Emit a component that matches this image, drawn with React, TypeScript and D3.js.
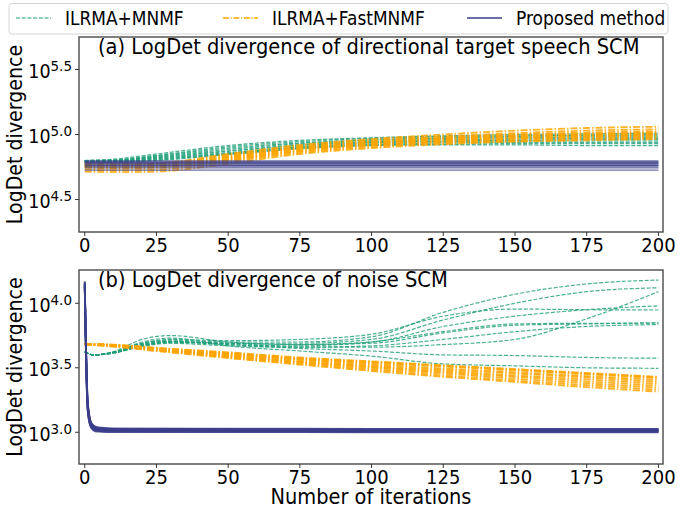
import React from 'react'
import * as d3 from 'd3'

// values are log10 of the LogDet divergence

// (a) directional target speech SCM
const iterA = [0, 10, 25, 50, 75, 100, 125, 150, 175, 200]
const mnmfA = [
  [4.800, 4.810, 4.850, 4.915, 4.955, 4.975, 4.990, 5.000, 5.005, 5.010],
  [4.800, 4.805, 4.840, 4.905, 4.945, 4.970, 4.985, 4.990, 4.995, 5.000],
  [4.795, 4.800, 4.835, 4.895, 4.935, 4.960, 4.975, 4.985, 4.990, 4.990],
  [4.795, 4.800, 4.830, 4.885, 4.930, 4.955, 4.970, 4.975, 4.980, 4.980],
  [4.795, 4.798, 4.825, 4.875, 4.920, 4.945, 4.960, 4.965, 4.970, 4.970],
  [4.790, 4.795, 4.820, 4.870, 4.915, 4.940, 4.950, 4.955, 4.960, 4.960],
  [4.790, 4.793, 4.815, 4.860, 4.905, 4.935, 4.945, 4.950, 4.950, 4.950],
  [4.790, 4.790, 4.810, 4.855, 4.900, 4.925, 4.935, 4.940, 4.940, 4.940],
  [4.785, 4.788, 4.805, 4.850, 4.895, 4.920, 4.925, 4.930, 4.930, 4.930],
  [4.785, 4.785, 4.800, 4.845, 4.890, 4.915, 4.920, 4.920, 4.915, 4.915],
]
const fastA = [
  [4.780, 4.775, 4.780, 4.850, 4.920, 4.965, 5.000, 5.030, 5.050, 5.060],
  [4.775, 4.770, 4.775, 4.840, 4.910, 4.955, 4.985, 5.010, 5.030, 5.040],
  [4.770, 4.765, 4.770, 4.830, 4.900, 4.945, 4.975, 5.000, 5.015, 5.025],
  [4.765, 4.760, 4.765, 4.825, 4.895, 4.940, 4.970, 4.990, 5.005, 5.015],
  [4.760, 4.755, 4.760, 4.820, 4.890, 4.935, 4.965, 4.985, 5.000, 5.010],
  [4.755, 4.750, 4.755, 4.810, 4.880, 4.925, 4.955, 4.975, 4.990, 5.000],
  [4.750, 4.745, 4.750, 4.805, 4.875, 4.920, 4.950, 4.970, 4.985, 4.995],
  [4.745, 4.740, 4.745, 4.800, 4.870, 4.915, 4.945, 4.960, 4.975, 4.985],
  [4.730, 4.725, 4.730, 4.790, 4.860, 4.905, 4.935, 4.950, 4.965, 4.975],
  [4.715, 4.710, 4.715, 4.775, 4.850, 4.895, 4.925, 4.945, 4.955, 4.965],
]
const iterPropA = [0, 100, 200]
const propA = [
  [4.797, 4.797, 4.797],
  [4.790, 4.790, 4.790],
  [4.785, 4.785, 4.785],
  [4.778, 4.778, 4.778],
  [4.772, 4.772, 4.772],
  [4.765, 4.765, 4.765],
  [4.760, 4.760, 4.760],
  [4.752, 4.752, 4.752],
  [4.744, 4.744, 4.744],
  [4.726, 4.726, 4.726],
]

// (b) noise SCM
const iterMnmfB = [0, 3, 10, 20, 30, 50, 75, 100, 125, 150, 175, 200]
const mnmfB = [
  [3.625, 3.600, 3.620, 3.690, 3.715, 3.700, 3.700, 3.740, 3.930, 4.070, 4.150, 4.180],
  [3.625, 3.600, 3.620, 3.685, 3.705, 3.690, 3.690, 3.720, 3.870, 4.000, 4.090, 4.120],
  [3.625, 3.600, 3.615, 3.665, 3.690, 3.670, 3.660, 3.660, 3.680, 3.720, 3.880, 4.090],
  [3.625, 3.600, 3.625, 3.720, 3.750, 3.700, 3.680, 3.700, 3.820, 3.900, 3.950, 3.980],
  [3.625, 3.600, 3.620, 3.690, 3.720, 3.710, 3.720, 3.760, 3.900, 3.955, 3.950, 3.948],
  [3.625, 3.600, 3.615, 3.675, 3.700, 3.680, 3.670, 3.700, 3.780, 3.840, 3.845, 3.845],
  [3.625, 3.600, 3.615, 3.670, 3.695, 3.690, 3.660, 3.670, 3.720, 3.780, 3.820, 3.835],
  [3.625, 3.600, 3.615, 3.680, 3.705, 3.680, 3.650, 3.630, 3.600, 3.595, 3.580, 3.574],
  [3.625, 3.600, 3.620, 3.700, 3.730, 3.670, 3.630, 3.590, 3.530, 3.515, 3.500, 3.496],
  [3.625, 3.600, 3.615, 3.675, 3.700, 3.690, 3.680, 3.690, 3.770, 3.830, 3.840, 3.850],
]
const iterFastB = [0, 10, 25, 50, 75, 100, 125, 150, 175, 200]
const fastB = [
  [3.685, 3.680, 3.655, 3.620, 3.580, 3.550, 3.520, 3.490, 3.460, 3.430],
  [3.685, 3.678, 3.652, 3.615, 3.575, 3.545, 3.515, 3.485, 3.455, 3.425],
  [3.684, 3.676, 3.650, 3.610, 3.570, 3.540, 3.510, 3.480, 3.450, 3.420],
  [3.684, 3.675, 3.647, 3.605, 3.565, 3.530, 3.495, 3.465, 3.435, 3.405],
  [3.683, 3.674, 3.645, 3.600, 3.560, 3.520, 3.485, 3.455, 3.425, 3.390],
  [3.683, 3.672, 3.642, 3.595, 3.550, 3.510, 3.475, 3.440, 3.410, 3.375],
  [3.682, 3.670, 3.640, 3.590, 3.545, 3.505, 3.465, 3.430, 3.395, 3.360],
  [3.682, 3.668, 3.637, 3.585, 3.540, 3.495, 3.455, 3.415, 3.380, 3.345],
  [3.681, 3.666, 3.634, 3.580, 3.530, 3.485, 3.440, 3.400, 3.365, 3.330],
  [3.681, 3.664, 3.630, 3.575, 3.525, 3.475, 3.430, 3.390, 3.350, 3.315],
]
const iterPropB = [0, 1, 2, 3, 4, 6, 10, 50, 100, 150, 200]
const propB = [
  [4.170, 3.260, 3.090, 3.055, 3.042, 3.035, 3.030, 3.028, 3.027, 3.027, 3.027],
  [4.165, 3.250, 3.085, 3.050, 3.038, 3.032, 3.027, 3.025, 3.024, 3.024, 3.024],
  [4.160, 3.240, 3.080, 3.045, 3.034, 3.028, 3.024, 3.022, 3.021, 3.021, 3.021],
  [4.155, 3.230, 3.075, 3.040, 3.030, 3.025, 3.021, 3.019, 3.018, 3.018, 3.018],
  [4.150, 3.220, 3.070, 3.036, 3.026, 3.021, 3.018, 3.016, 3.015, 3.015, 3.015],
  [4.145, 3.210, 3.065, 3.032, 3.022, 3.018, 3.015, 3.013, 3.012, 3.012, 3.012],
  [4.140, 3.200, 3.060, 3.028, 3.018, 3.014, 3.011, 3.010, 3.009, 3.009, 3.009],
  [4.135, 3.190, 3.055, 3.024, 3.014, 3.010, 3.008, 3.007, 3.006, 3.006, 3.006],
  [4.130, 3.180, 3.050, 3.020, 3.010, 3.007, 3.005, 3.004, 3.003, 3.003, 3.003],
  [4.125, 3.170, 3.045, 3.016, 3.006, 3.004, 3.002, 3.001, 3.000, 3.000, 3.000],
]

const xTicks = [0, 25, 50, 75, 100, 125, 150, 175, 200]
const yTicksA = ['4.5', '5.0', '5.5']
const yTicksB = ['3.0', '3.5', '4.0']

const GREEN = '#1b9e77'
const ORANGE = '#ffa500'
const PURPLE = '#3b3f8a'
const FONT = 'DejaVu Sans, sans-serif'
const SY = 1.1 // the picture is a little taller than wide

const left = 79, right = 663
const x = d3.scaleLinear().domain([-2, 201.6]).range([left, right])

function T({ x, y, size, anchor = 'start', rotate = 0, children }) {
  return (
    <text transform={`translate(${x},${y}) rotate(${rotate}) scale(1,${SY})`}
      fontSize={size} fontFamily={FONT} textAnchor={anchor}>{children}</text>
  )
}

function Panel({ top, bottom, yDom, yTicks, title, groups }) {
  const y = d3.scaleLog().domain([10 ** yDom[0], 10 ** yDom[1]]).range([bottom, top])
  const line = d3.line<[number, number]>()
    .x(d => x(d[0]))
    .y(d => y(10 ** d[1]))
    .curve(d3.curveMonotoneX)
  const clipId = 'clip' + top
  return (
    <g>
      <clipPath id={clipId}>
        <rect x={left} y={top} width={right - left} height={bottom - top} />
      </clipPath>
      <g clipPath={`url(#${clipId})`}>
        {groups.map((g, gi) => g.rows.map((row, i) => (
          <path key={gi + '-' + i}
            d={line(row.map((v, j) => [g.iters[j], v]))}
            fill="none" stroke={g.color} strokeWidth={g.width}
            strokeDasharray={g.dash} strokeOpacity={g.opacity} />
        )))}
      </g>
      <rect x={left} y={top} width={right - left} height={bottom - top}
        fill="none" stroke="#555" strokeWidth={1.5} />
      {xTicks.map(t => (
        <g key={t}>
          <line x1={x(t)} x2={x(t)} y1={bottom} y2={bottom + 4} stroke="#222" strokeWidth={0.9} />
          <T x={x(t)} y={bottom + 20} size={18} anchor="middle">{t}</T>
        </g>
      ))}
      {yTicks.map(t => {
        const ty = y(10 ** +t)
        return (
          <g key={t}>
            <line x1={left - 4} x2={left} y1={ty} y2={ty} stroke="#222" strokeWidth={0.9} />
            <T x={72} y={ty + 8.5} size={17.5} anchor="end">
              10<tspan dy={-6.5} fontSize={13.5}>{t}</tspan>
            </T>
          </g>
        )
      })}
      <T x={98} y={top + 17} size={19.5}>{title}</T>
      <T x={22} y={(top + bottom) / 2} size={19} anchor="middle" rotate={-90}>LogDet divergence</T>
    </g>
  )
}

const legendItems = [
  { label: 'ILRMA+MNMF', color: GREEN, dash: '4,1.7', width: 1.2, x: 16 },
  { label: 'ILRMA+FastMNMF', color: ORANGE, dash: '6,1.6,1.2,1.6', width: 1.3, x: 223 },
  { label: 'Proposed method', color: PURPLE, dash: null, width: 1.4, x: 467 },
]

export default function App() {
  const groupsA = [
    { iters: iterA, rows: mnmfA, color: GREEN, dash: '4,1.7', width: 1.2, opacity: 0.8 },
    { iters: iterA, rows: fastA, color: ORANGE, dash: '7,2,1.5,2', width: 1.8, opacity: 0.85 },
    { iters: iterPropA, rows: propA, color: PURPLE, dash: null, width: 1.2, opacity: 0.75 },
  ]
  const groupsB = [
    { iters: iterMnmfB, rows: mnmfB, color: GREEN, dash: '4,1.7', width: 1.2, opacity: 0.8 },
    { iters: iterFastB, rows: fastB, color: ORANGE, dash: '7,2,1.5,2', width: 1.8, opacity: 0.85 },
    { iters: iterPropB, rows: propB, color: PURPLE, dash: null, width: 1.8, opacity: 0.8 },
  ]
  return (
    <svg width={678} height={508} style={{ position: 'absolute', left: 0, top: 0, background: '#fff' }}>
      <Panel top={37} bottom={232} yDom={[4.25, 5.75]} yTicks={yTicksA}
        title="(a) LogDet divergence of directional target speech SCM" groups={groupsA} />
      <Panel top={270} bottom={464} yDom={[2.754, 4.258]} yTicks={yTicksB}
        title="(b) LogDet divergence of noise SCM" groups={groupsB} />
      <T x={371} y={504} size={19.4} anchor="middle">Number of iterations</T>
      <rect x={9} y={3.5} width={659} height={30.5} rx={3} fill="#fff" stroke="#d6d6d6" strokeWidth={1} />
      {legendItems.map(it => (
        <g key={it.label}>
          <line x1={it.x} x2={it.x + 35} y1={18} y2={18} stroke={it.color}
            strokeWidth={it.width} strokeDasharray={it.dash} />
          <T x={it.x + 49} y={25} size={17}>{it.label}</T>
        </g>
      ))}
    </svg>
  )
}
